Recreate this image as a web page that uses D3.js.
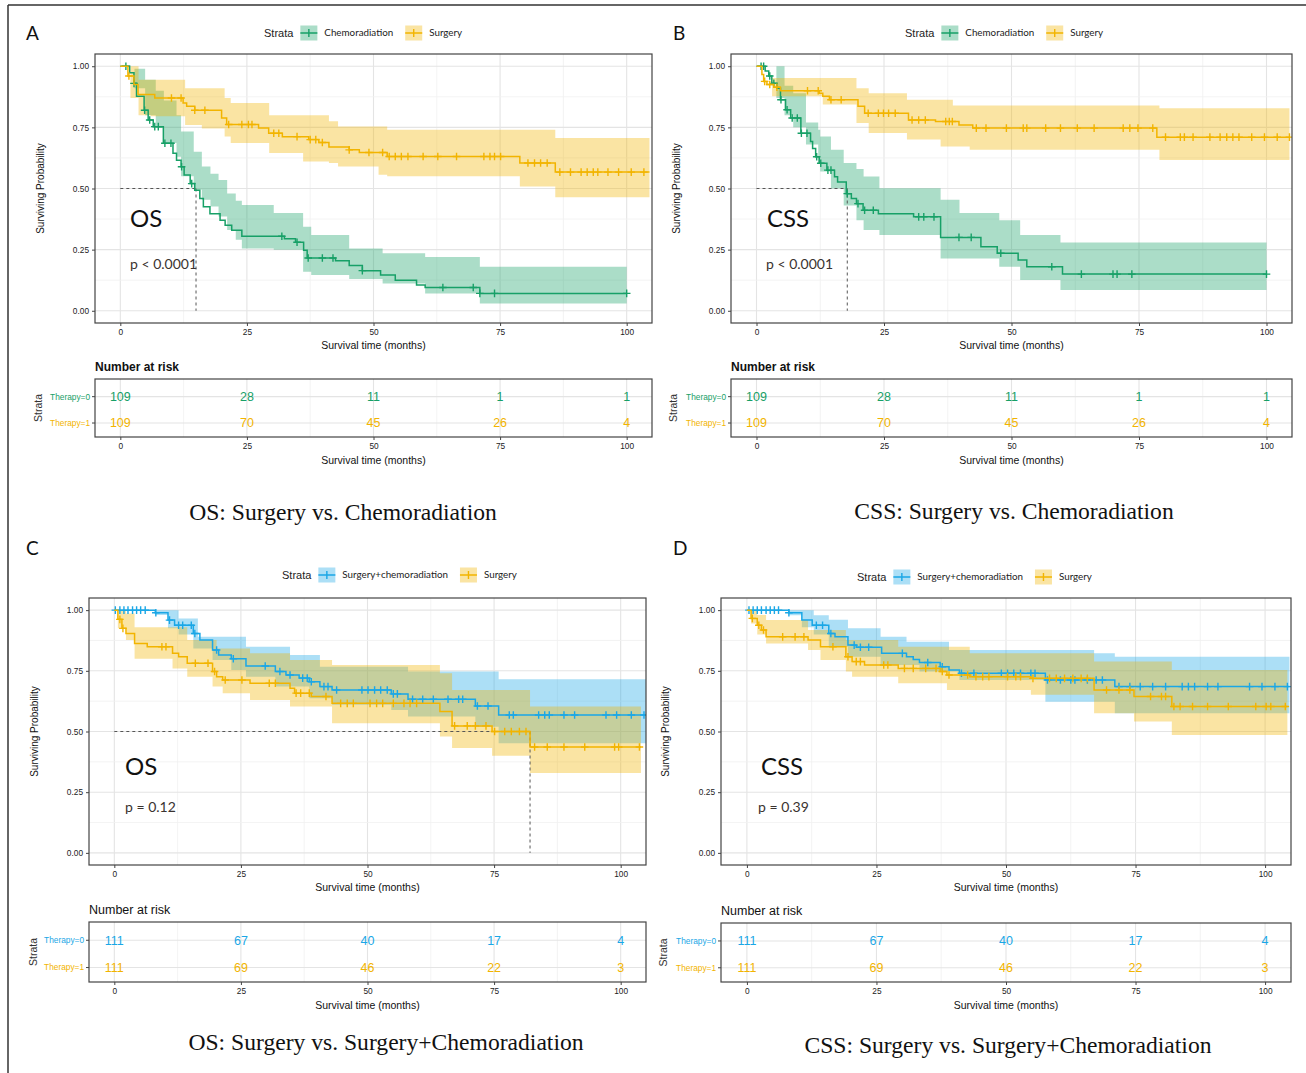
<!DOCTYPE html>
<html>
<head>
<meta charset="utf-8">
<script src="https://cdn.jsdelivr.net/npm/d3@7"></script>
<style>
  body { margin: 0; background: #fff; }
  svg { display: block; }
</style>
</head>
<body>
<svg id="fig" width="1306" height="1073"></svg>
<script>
// ---- data: Kaplan-Meier steps (time in months, survival) ----

var xTicks = [0, 25, 50, 75, 100];
var yTicks = [0, 0.25, 0.5, 0.75, 1];
var riskTimes = [0, 25, 50, 75, 100];

// Panel A: OS, chemoradiation vs surgery
var aChemoT = [0, 1.85, 2.7, 3.2, 4.7, 5.5, 6.5, 8.5, 10.4, 11.1, 12.0, 12.6, 13.8, 14.7, 15.7, 16.4, 17.7, 19.7, 20.7, 22.0, 24.0, 32.4, 34.6, 36.2, 36.9, 42.5, 45.2, 47.8, 51.4, 54.3, 58.5, 60.2, 71.0];
var aChemoS = [1, 0.973, 0.93, 0.877, 0.82, 0.78, 0.753, 0.685, 0.644, 0.616, 0.589, 0.555, 0.52, 0.493, 0.459, 0.425, 0.397, 0.37, 0.35, 0.329, 0.305, 0.295, 0.28, 0.247, 0.216, 0.205, 0.185, 0.164, 0.146, 0.125, 0.105, 0.095, 0.071];
var aChemoCens = [1.1, 2.7, 4.8, 5.8, 6.8, 7.5, 8.8, 10.0, 12.1, 14.1, 31.9, 34.9, 37.1, 39.9, 42.0, 47.8, 63.7, 69.7, 71.0, 73.9, 100];
var aChemoBandT = [0, 2.8, 4.9, 7.0, 8.6, 11.1, 12.0, 14.5, 16.1, 17.8, 19.4, 21.1, 22.8, 24.0, 30.3, 36.1, 37.7, 45.2, 51.8, 60.2, 71.0];
var aChemoBandHi = [1, 0.99, 0.945, 0.90, 0.86, 0.80, 0.733, 0.65, 0.59, 0.56, 0.535, 0.48, 0.45, 0.433, 0.40, 0.344, 0.31, 0.255, 0.235, 0.22, 0.18];
var aChemoBandLo = [1, 0.91, 0.80, 0.747, 0.686, 0.63, 0.55, 0.495, 0.454, 0.426, 0.385, 0.33, 0.29, 0.255, 0.25, 0.16, 0.146, 0.13, 0.112, 0.071, 0.03];

var aSurgT = [0, 1.5, 2.7, 3.5, 6.8, 12.4, 13.1, 14.7, 20.0, 21.0, 27.3, 29.3, 32.0, 37.2, 39.2, 41.2, 45.2, 47.2, 52.7, 78.9, 85.9];
var aSurgS = [1, 0.96, 0.925, 0.884, 0.87, 0.85, 0.836, 0.82, 0.788, 0.762, 0.747, 0.726, 0.712, 0.70, 0.688, 0.67, 0.658, 0.647, 0.631, 0.604, 0.567];
var aSurgCens = [1.7, 10.1, 12.0, 14.7, 16.7, 21.4, 24.0, 25.3, 26.0, 30.3, 31.3, 34.9, 37.5, 38.6, 39.9, 45.2, 49.1, 51.8, 53.1, 54.3, 55.5, 56.8, 59.8, 62.7, 66.4, 71.8, 73.0, 73.9, 75.1, 80.5, 81.8, 83.0, 84.3, 86.8, 88.9, 91.0, 92.2, 93.4, 94.3, 96.3, 98.4, 100.9, 103.4];
var aSurgBandT = [0, 2.0, 3.6, 6.0, 12.8, 16.1, 20.6, 21.8, 29.4, 36.1, 41.2, 43.0, 51.0, 52.7, 78.9, 85.9];
var aSurgBandHi = [1, 1, 0.945, 0.945, 0.91, 0.91, 0.87, 0.85, 0.80, 0.80, 0.775, 0.754, 0.754, 0.74, 0.74, 0.706];
var aSurgBandLo = [1, 0.87, 0.80, 0.795, 0.76, 0.745, 0.713, 0.686, 0.645, 0.61, 0.604, 0.59, 0.556, 0.55, 0.508, 0.464];

var aRiskChemo = [109, 28, 11, 1, 1];
var aRiskSurg = [109, 70, 45, 26, 4];

// Panel B: CSS, chemoradiation vs surgery
var bChemoT = [0, 1.7, 2.4, 3.0, 4.0, 4.7, 5.7, 6.7, 8.7, 10.6, 11.0, 11.6, 12.3, 13.8, 15.3, 15.9, 17.6, 18.6, 19.6, 20.9, 23.9, 30.8, 36.1, 44.0, 47.2, 51.3, 53.0, 60.0];
var bChemoS = [1, 0.98, 0.96, 0.93, 0.91, 0.863, 0.822, 0.788, 0.726, 0.692, 0.664, 0.63, 0.603, 0.575, 0.548, 0.527, 0.479, 0.459, 0.438, 0.411, 0.397, 0.384, 0.30, 0.262, 0.235, 0.208, 0.18, 0.15];
var bChemoCens = [0.9, 1.4, 2.6, 3.4, 4.8, 6.0, 7.0, 8.0, 8.8, 9.9, 11.8, 12.6, 14.0, 14.6, 17.8, 19.9, 21.2, 22.9, 31.8, 32.8, 34.8, 39.7, 42.1, 47.9, 57.9, 63.7, 69.9, 70.7, 73.6, 100];
var bChemoBandT = [0, 3.9, 5.5, 7.2, 9.7, 12.1, 12.5, 14.6, 17.1, 19.6, 21.0, 24.1, 36.1, 39.8, 47.6, 51.7, 59.6];
var bChemoBandHi = [1, 1, 0.92, 0.89, 0.77, 0.74, 0.713, 0.658, 0.604, 0.58, 0.549, 0.501, 0.454, 0.40, 0.37, 0.31, 0.279];
var bChemoBandLo = [1, 0.87, 0.80, 0.75, 0.68, 0.60, 0.57, 0.50, 0.43, 0.37, 0.33, 0.31, 0.214, 0.214, 0.18, 0.126, 0.085];

var bSurgT = [0, 1.06, 1.4, 2.05, 3.4, 4.7, 12.3, 13.0, 14.3, 19.9, 21.2, 29.8, 35.1, 39.7, 42.4, 78.5];
var bSurgS = [1, 0.966, 0.938, 0.925, 0.914, 0.90, 0.89, 0.877, 0.863, 0.836, 0.808, 0.78, 0.774, 0.76, 0.747, 0.71];
var bSurgCens = [1.6, 2.6, 4.0, 10.0, 12.1, 14.6, 16.6, 21.9, 23.9, 24.9, 25.9, 27.2, 30.5, 31.8, 33.1, 37.1, 37.8, 38.4, 43.1, 45.0, 49.0, 52.3, 53.0, 56.7, 59.6, 62.9, 66.2, 71.9, 73.2, 74.8, 77.7, 80.2, 83.1, 83.9, 85.6, 88.9, 90.9, 92.2, 93.4, 94.6, 97.1, 99.6, 102.1, 104.5];
var bSurgBandT = [0, 3.05, 13.0, 19.6, 22.0, 29.5, 36.1, 38.5, 41.8, 79.0];
var bSurgBandHi = [1, 0.952, 0.952, 0.91, 0.89, 0.863, 0.863, 0.839, 0.839, 0.828];
var bSurgBandLo = [1, 0.877, 0.843, 0.768, 0.727, 0.70, 0.672, 0.672, 0.658, 0.617];

var bRiskChemo = [109, 28, 11, 1, 1];
var bRiskSurg = [109, 70, 45, 26, 4];

// Panel C: OS, surgery+chemoradiation vs surgery
var cComboT = [0, 8.1, 10.6, 11.9, 15.6, 16.9, 19.4, 20.6, 23.1, 26.0, 31.8, 33.9, 36.5, 38.5, 40.6, 43.0, 54.7, 58.0, 71.3, 75.9];
var cComboS = [1, 0.989, 0.959, 0.938, 0.904, 0.877, 0.836, 0.815, 0.80, 0.77, 0.747, 0.733, 0.72, 0.705, 0.685, 0.671, 0.655, 0.633, 0.605, 0.568];
var cComboCens = [0.2, 1.1, 1.9, 2.7, 3.6, 4.4, 5.2, 6.1, 8.2, 10.9, 12.7, 13.5, 15.2, 15.9, 20.2, 23.5, 29.8, 32.7, 34.7, 37.2, 38.1, 38.9, 41.4, 42.2, 43.9, 48.9, 50.1, 51.4, 52.6, 53.9, 55.1, 55.9, 58.9, 60.9, 63.0, 65.9, 68.0, 68.8, 71.7, 73.8, 78.0, 78.8, 83.8, 85.0, 85.9, 88.8, 90.9, 97.1, 99.2, 102.1, 104.6];
var cComboBandT = [0, 8.1, 10.6, 12.7, 15.6, 16.5, 19.4, 23.1, 26.0, 31.8, 34.7, 38.5, 40.6, 43.0, 54.7, 58.0, 71.3, 75.9];
var cComboBandHi = [1, 1, 1, 0.966, 0.966, 0.89, 0.89, 0.89, 0.849, 0.849, 0.815, 0.815, 0.767, 0.767, 0.767, 0.747, 0.747, 0.715];
var cComboBandLo = [1, 0.98, 0.925, 0.90, 0.842, 0.842, 0.795, 0.753, 0.726, 0.685, 0.685, 0.637, 0.637, 0.61, 0.589, 0.562, 0.52, 0.452];

var cSurgT = [0, 0.7, 1.5, 2.3, 4.0, 6.5, 11.5, 12.7, 14.4, 19.4, 20.2, 21.4, 26.8, 34.7, 35.6, 38.9, 43.0, 64.3, 66.7, 74.6, 82.1];
var cSurgS = [1, 0.962, 0.925, 0.904, 0.863, 0.849, 0.822, 0.808, 0.781, 0.747, 0.726, 0.712, 0.699, 0.678, 0.658, 0.644, 0.616, 0.582, 0.523, 0.50, 0.436];
var cSurgCens = [1.1, 1.7, 9.4, 10.2, 16.0, 18.5, 19.8, 21.9, 25.2, 30.6, 31.8, 35.9, 36.8, 38.5, 41.8, 44.7, 46.0, 47.2, 50.5, 51.8, 53.0, 55.1, 57.2, 58.4, 59.7, 67.2, 69.7, 71.3, 73.4, 75.1, 77.1, 78.4, 80.0, 81.3, 83.0, 85.5, 88.8, 92.9, 98.8, 99.6, 103.7];
var cSurgBandT = [0, 0.7, 2.3, 4.0, 11.5, 14.4, 19.4, 20.2, 21.4, 26.8, 34.7, 43.0, 64.3, 66.7, 74.6, 82.1];
var cSurgBandHi = [1, 1, 0.986, 0.93, 0.93, 0.877, 0.877, 0.842, 0.842, 0.822, 0.795, 0.774, 0.74, 0.671, 0.671, 0.603];
var cSurgBandLo = [1, 0.925, 0.877, 0.80, 0.76, 0.726, 0.685, 0.685, 0.658, 0.63, 0.603, 0.534, 0.479, 0.432, 0.40, 0.329];

var cRiskCombo = [111, 67, 40, 17, 4];
var cRiskSurg = [111, 69, 46, 22, 3];

// Panel D: CSS, surgery+chemoradiation vs surgery
var dComboT = [0, 8.1, 10.6, 12.6, 15.8, 17.0, 19.5, 21.1, 26.0, 30.8, 32.1, 33.3, 37.3, 39.0, 41.0, 57.6, 71.0];
var dComboS = [1, 0.989, 0.959, 0.938, 0.904, 0.89, 0.856, 0.847, 0.822, 0.808, 0.797, 0.784, 0.767, 0.753, 0.74, 0.712, 0.685];
var dComboCens = [0.4, 1.2, 2.0, 2.8, 3.7, 4.5, 5.3, 6.1, 8.1, 13.4, 14.6, 16.2, 20.7, 21.9, 23.5, 30.0, 34.9, 37.7, 41.4, 43.8, 49.1, 50.3, 51.5, 52.8, 54.8, 55.6, 58.0, 60.5, 62.5, 63.3, 65.7, 67.4, 68.6, 71.8, 73.9, 75.9, 78.3, 80.8, 84.0, 85.2, 86.4, 88.9, 90.9, 97.0, 99.4, 101.9, 104.3];
var dComboBandT = [0, 8.1, 10.6, 12.9, 15.8, 19.5, 25.8, 30.8, 33.3, 39.0, 41.0, 57.6, 67.0, 71.0];
var dComboBandHi = [1, 1, 1, 0.979, 0.96, 0.925, 0.89, 0.87, 0.87, 0.836, 0.836, 0.836, 0.822, 0.808];
var dComboBandLo = [1, 0.979, 0.93, 0.90, 0.849, 0.808, 0.774, 0.774, 0.747, 0.747, 0.712, 0.623, 0.623, 0.575];

var dSurgT = [0, 0.8, 2.0, 2.8, 3.7, 11.8, 14.2, 19.1, 20.3, 22.7, 29.2, 37.3, 38.6, 43.0, 54.8, 67.0, 74.7, 82.0];
var dSurgS = [1, 0.966, 0.938, 0.918, 0.89, 0.877, 0.849, 0.808, 0.788, 0.774, 0.76, 0.747, 0.733, 0.726, 0.719, 0.671, 0.644, 0.603];
var dSurgCens = [1.05, 2.3, 3.2, 6.9, 9.3, 11.0, 16.6, 19.5, 21.1, 21.9, 26.4, 27.2, 30.4, 32.1, 34.5, 36.5, 37.7, 39.0, 42.6, 44.2, 45.5, 46.7, 50.3, 51.9, 52.8, 55.2, 58.4, 59.7, 61.3, 62.9, 64.5, 65.7, 69.4, 71.8, 73.9, 77.9, 80.0, 80.8, 82.4, 83.6, 86.0, 88.9, 92.9, 98.2, 100.2, 101.1, 103.9];
var dSurgBandT = [0, 0.8, 2.0, 3.7, 11.8, 14.2, 19.1, 20.3, 29.2, 38.6, 43.0, 54.8, 67.0, 74.7, 82.0];
var dSurgBandHi = [1, 1, 0.98, 0.959, 0.918, 0.918, 0.877, 0.877, 0.849, 0.849, 0.822, 0.822, 0.788, 0.788, 0.753];
var dSurgBandLo = [1, 0.945, 0.90, 0.863, 0.836, 0.795, 0.747, 0.726, 0.699, 0.671, 0.671, 0.651, 0.575, 0.541, 0.486];

var dRiskCombo = [111, 67, 40, 17, 4];
var dRiskSurg = [111, 69, 46, 22, 3];

// ---- styles ----
var GREEN = '#17a067', YELLOW = '#f2b400', BLUE = '#1aa7e6';
var BAND_OPACITY = 0.36;
var SANS = '"Liberation Sans", Arial, sans-serif';
var HUMAN = 'Lato, "Open Sans", sans-serif';

function series(name, color, times, surv, end, cens, bandT, bandLo, bandHi) {
  return { name: name, color: color, times: times, surv: surv, end: end, cens: cens,
           bandT: bandT, bandLo: bandLo, bandHi: bandHi };
}

var panels = [
  { letter: 'A', lx: 26, ly: 40, left: 95, top: 54, right: 652, bottom: 323, ytitleX: 40, legendX: 264, legendY: 33,
    big: 'OS', bigX: 130, pText: 'p < 0.0001', pX: 130, textBase: 227, pBase: 269, median: 14.95,
    series: [series('Chemoradiation', GREEN, aChemoT, aChemoS, 100, aChemoCens, aChemoBandT, aChemoBandLo, aChemoBandHi),
             series('Surgery', YELLOW, aSurgT, aSurgS, 104.5, aSurgCens, aSurgBandT, aSurgBandLo, aSurgBandHi)],
    risk: [aRiskChemo, aRiskSurg], riskTop: 379, riskBottom: 437, riskBold: true, strataX: 38,
    caption: 'OS: Surgery vs. Chemoradiation', capX: 343, capY: 520 },
  { letter: 'B', lx: 673, ly: 40, left: 731, top: 54, right: 1292, bottom: 323, ytitleX: 676, legendX: 905, legendY: 33,
    big: 'CSS', bigX: 767, pText: 'p < 0.0001', pX: 766, textBase: 227, pBase: 269, median: 17.8,
    series: [series('Chemoradiation', GREEN, bChemoT, bChemoS, 100, bChemoCens, bChemoBandT, bChemoBandLo, bChemoBandHi),
             series('Surgery', YELLOW, bSurgT, bSurgS, 104.5, bSurgCens, bSurgBandT, bSurgBandLo, bSurgBandHi)],
    risk: [bRiskChemo, bRiskSurg], riskTop: 379, riskBottom: 437, riskBold: true, strataX: 673,
    caption: 'CSS: Surgery vs. Chemoradiation', capX: 1014, capY: 519 },
  { letter: 'C', lx: 26, ly: 555, left: 89, top: 598, right: 646, bottom: 865, ytitleX: 34, legendX: 282, legendY: 575,
    big: 'OS', bigX: 125, pText: 'p = 0.12', pX: 125, textBase: 775, pBase: 812, median: 82.1,
    series: [series('Surgery+chemoradiation', BLUE, cComboT, cComboS, 105, cComboCens, cComboBandT, cComboBandLo, cComboBandHi),
             series('Surgery', YELLOW, cSurgT, cSurgS, 104, cSurgCens, cSurgBandT, cSurgBandLo, cSurgBandHi)],
    risk: [cRiskCombo, cRiskSurg], riskTop: 922, riskBottom: 982, riskBold: false, strataX: 33,
    caption: 'OS: Surgery vs. Surgery+Chemoradiation', capX: 386, capY: 1050 },
  { letter: 'D', lx: 673, ly: 555, left: 721, top: 598, right: 1291, bottom: 865, ytitleX: 665, legendX: 857, legendY: 577,
    big: 'CSS', bigX: 761, pText: 'p = 0.39', pX: 758, textBase: 775, pBase: 812, median: null,
    series: [series('Surgery+chemoradiation', BLUE, dComboT, dComboS, 104.7, dComboCens, dComboBandT, dComboBandLo, dComboBandHi),
             series('Surgery', YELLOW, dSurgT, dSurgS, 104.3, dSurgCens, dSurgBandT, dSurgBandLo, dSurgBandHi)],
    risk: [dRiskCombo, dRiskSurg], riskTop: 923, riskBottom: 982, riskBold: false, strataX: 663,
    caption: 'CSS: Surgery vs. Surgery+Chemoradiation', capX: 1008, capY: 1053 }
];

var svg = d3.select('#fig');

// figure frame (top and left rules)
svg.append('line').attr('x1', 8).attr('x2', 1306).attr('y1', 5).attr('y2', 5)
  .attr('stroke', '#333').attr('stroke-width', 1.5);
svg.append('line').attr('x1', 8).attr('x2', 8).attr('y1', 5).attr('y2', 1073)
  .attr('stroke', '#333').attr('stroke-width', 1.5);

function survAt(times, surv, t) {
  var i = d3.bisectRight(times, t) - 1;
  return surv[Math.max(0, i)];
}

function drawGrid(g, x, y0, y1, xLeft, xRight, yVals, yScale) {
  var xMinor = [12.5, 37.5, 62.5, 87.5];
  g.selectAll(null).data(xMinor).enter().append('line')
    .attr('x1', function (d) { return x(d); }).attr('x2', function (d) { return x(d); })
    .attr('y1', y0).attr('y2', y1).attr('stroke', '#f0f0f0').attr('stroke-width', 0.8);
  g.selectAll(null).data(xTicks).enter().append('line')
    .attr('x1', function (d) { return x(d); }).attr('x2', function (d) { return x(d); })
    .attr('y1', y0).attr('y2', y1).attr('stroke', '#e4e4e4').attr('stroke-width', 1.1);
  g.selectAll(null).data(yVals).enter().append('line')
    .attr('x1', xLeft).attr('x2', xRight)
    .attr('y1', function (d) { return yScale(d.v); }).attr('y2', function (d) { return yScale(d.v); })
    .attr('stroke', function (d) { return d.major ? '#e4e4e4' : '#f0f0f0'; })
    .attr('stroke-width', function (d) { return d.major ? 1.1 : 0.8; });
}

function drawLegend(p) {
  var g = svg.append('g').attr('font-family', SANS);
  var cx = p.legendX;
  var t = g.append('text').attr('x', cx).attr('y', p.legendY + 4).attr('font-size', 11)
    .attr('fill', '#222').text('Strata');
  cx += t.node().getComputedTextLength() + 7;
  p.series.forEach(function (s) {
    var kw = 17, kh = 15;
    g.append('rect').attr('x', cx).attr('y', p.legendY - kh / 2).attr('width', kw).attr('height', kh)
      .attr('fill', s.color).attr('fill-opacity', BAND_OPACITY);
    g.append('path')
      .attr('d', 'M' + cx + ',' + p.legendY + 'h' + kw + 'M' + (cx + kw / 2) + ',' + (p.legendY - 4) + 'v8')
      .attr('stroke', s.color).attr('stroke-width', 1.4).attr('fill', 'none');
    cx += kw + 7;
    var lt = g.append('text').attr('x', cx).attr('y', p.legendY + 3).attr('font-size', 9.8)
      .attr('font-family', HUMAN).attr('fill', '#222').text(s.name);
    cx += lt.node().getComputedTextLength() + 12;
  });
}

function drawPanel(p, idx) {
  var g = svg.append('g');
  var x = d3.scaleLinear().domain([-5, 105]).range([p.left, p.right]);
  var y = d3.scaleLinear().domain([-0.05, 1.05]).range([p.bottom, p.top]);

  var yGrid = [];
  [0, 0.125, 0.25, 0.375, 0.5, 0.625, 0.75, 0.875, 1].forEach(function (v, i) {
    yGrid.push({ v: v, major: i % 2 === 0 });
  });
  drawGrid(g, x, p.top, p.bottom, p.left, p.right, yGrid, y);

  var clipId = 'clip' + idx;
  g.append('clipPath').attr('id', clipId).append('rect')
    .attr('x', p.left).attr('y', p.top).attr('width', p.right - p.left).attr('height', p.bottom - p.top);
  var plot = g.append('g').attr('clip-path', 'url(#' + clipId + ')');

  var area = d3.area().curve(d3.curveStepAfter)
    .x(function (d) { return x(d.t); })
    .y0(function (d) { return y(d.lo); })
    .y1(function (d) { return y(d.hi); });
  var line = d3.line().curve(d3.curveStepAfter)
    .x(function (d) { return x(d.t); })
    .y(function (d) { return y(d.s); });

  p.series.forEach(function (s) {
    var band = s.bandT.map(function (t, i) { return { t: t, lo: s.bandLo[i], hi: s.bandHi[i] }; });
    var lastB = band[band.length - 1];
    band.push({ t: s.end, lo: lastB.lo, hi: lastB.hi });
    plot.append('path').datum(band).attr('d', area)
      .attr('fill', s.color).attr('fill-opacity', BAND_OPACITY);
  });

  if (p.median !== null) {
    var dash = '3,3';
    plot.append('line').attr('x1', x(0)).attr('x2', x(p.median)).attr('y1', y(0.5)).attr('y2', y(0.5))
      .attr('stroke', '#555').attr('stroke-dasharray', dash).attr('stroke-width', 1);
    plot.append('line').attr('x1', x(p.median)).attr('x2', x(p.median)).attr('y1', y(0.5)).attr('y2', y(0))
      .attr('stroke', '#555').attr('stroke-dasharray', dash).attr('stroke-width', 1);
  }

  p.series.forEach(function (s) {
    var pts = s.times.map(function (t, i) { return { t: t, s: s.surv[i] }; });
    pts.push({ t: s.end, s: s.surv[s.surv.length - 1] });
    plot.append('path').datum(pts).attr('d', line)
      .attr('fill', 'none').attr('stroke', s.color).attr('stroke-width', 1.5);
    var marks = s.cens.map(function (t) {
      var cx = x(t), cy = y(survAt(s.times, s.surv, t));
      return 'M' + (cx - 3.8) + ',' + cy + 'h7.6M' + cx + ',' + (cy - 3.8) + 'v7.6';
    }).join('');
    plot.append('path').attr('d', marks).attr('stroke', s.color).attr('stroke-width', 1.4).attr('fill', 'none');
  });

  g.append('rect').attr('x', p.left).attr('y', p.top).attr('width', p.right - p.left).attr('height', p.bottom - p.top)
    .attr('fill', 'none').attr('stroke', '#444').attr('stroke-width', 1.2);

  var ax = g.append('g').attr('transform', 'translate(0,' + p.bottom + ')')
    .call(d3.axisBottom(x).tickValues(xTicks).tickSize(3).tickPadding(3));
  var ay = g.append('g').attr('transform', 'translate(' + p.left + ',0)')
    .call(d3.axisLeft(y).tickValues(yTicks).tickFormat(d3.format('.2f')).tickSize(3).tickPadding(3));
  [ax, ay].forEach(function (a) {
    a.select('.domain').remove();
    a.selectAll('line').attr('stroke', '#444');
    a.selectAll('text').attr('font-family', SANS).attr('font-size', 8.3).attr('fill', '#222');
  });

  g.append('text').attr('x', (x(0) + x(100)) / 2).attr('y', p.bottom + 26).attr('text-anchor', 'middle')
    .attr('font-family', SANS).attr('font-size', 10.5).attr('fill', '#111').text('Survival time (months)');
  g.append('text').attr('transform', 'translate(' + p.ytitleX + ',' + ((p.top + p.bottom) / 2) + ') rotate(-90)')
    .attr('text-anchor', 'middle').attr('dy', '0.35em')
    .attr('font-family', SANS).attr('font-size', 10).attr('fill', '#111').text('Surviving Probability');

  g.append('text').attr('x', p.bigX).attr('y', p.textBase).attr('font-family', HUMAN)
    .attr('font-size', 24).attr('fill', '#111').text(p.big);
  g.append('text').attr('x', p.pX).attr('y', p.pBase).attr('font-family', HUMAN)
    .attr('font-size', 14).attr('fill', '#3a3330').text(p.pText);

  g.append('text').attr('x', p.lx).attr('y', p.ly).attr('font-family', HUMAN)
    .attr('font-size', 19).attr('fill', '#111').text(p.letter);

  drawLegend(p);
  drawRisk(p, x);

  svg.append('text').attr('x', p.capX).attr('y', p.capY).attr('text-anchor', 'middle')
    .attr('font-family', '"Liberation Serif", "Times New Roman", serif').attr('font-size', 23.6)
    .attr('fill', '#111').text(p.caption);
}

function drawRisk(p, x) {
  var g = svg.append('g');
  var top = p.riskTop, bottom = p.riskBottom;
  var ry = d3.scaleLinear().domain([-0.67, 1.53]).range([top, bottom]);
  var rows = [{ v: 0, major: true }, { v: 1, major: true }];
  drawGrid(g, x, top, bottom, p.left, p.right, rows, ry);
  g.append('rect').attr('x', p.left).attr('y', top).attr('width', p.right - p.left).attr('height', bottom - top)
    .attr('fill', 'none').attr('stroke', '#444').attr('stroke-width', 1.2);

  g.append('text').attr('x', p.left).attr('y', top - 8)
    .attr('font-family', SANS).attr('font-size', p.riskBold ? 12 : 12.5)
    .attr('font-weight', p.riskBold ? 'bold' : 'normal').attr('fill', '#111').text('Number at risk');

  p.risk.forEach(function (vals, r) {
    var s = p.series[r];
    g.selectAll(null).data(vals).enter().append('text')
      .attr('x', function (d, i) { return x(riskTimes[i]); })
      .attr('y', ry(r)).attr('dy', '0.35em').attr('text-anchor', 'middle')
      .attr('font-family', SANS).attr('font-size', 12.5).attr('fill', s.color)
      .text(function (d) { return d; });
    g.append('line').attr('x1', p.left - 3).attr('x2', p.left).attr('y1', ry(r)).attr('y2', ry(r))
      .attr('stroke', '#444');
    g.append('text').attr('x', p.left - 5).attr('y', ry(r)).attr('dy', '0.35em').attr('text-anchor', 'end')
      .attr('font-family', SANS).attr('font-size', 8.3).attr('fill', s.color).text('Therapy=' + r);
  });

  g.append('text').attr('transform', 'translate(' + p.strataX + ',' + ((top + bottom) / 2) + ') rotate(-90)')
    .attr('text-anchor', 'middle').attr('dy', '0.35em')
    .attr('font-family', SANS).attr('font-size', 10.5).attr('fill', '#333').text('Strata');

  var ax = g.append('g').attr('transform', 'translate(0,' + bottom + ')')
    .call(d3.axisBottom(x).tickValues(xTicks).tickSize(3).tickPadding(3));
  ax.select('.domain').remove();
  ax.selectAll('line').attr('stroke', '#444');
  ax.selectAll('text').attr('font-family', SANS).attr('font-size', 8.3).attr('fill', '#222');

  g.append('text').attr('x', (x(0) + x(100)) / 2).attr('y', bottom + 27).attr('text-anchor', 'middle')
    .attr('font-family', SANS).attr('font-size', 10.5).attr('fill', '#111').text('Survival time (months)');
}

panels.forEach(drawPanel);
</script>
</body>
</html>
